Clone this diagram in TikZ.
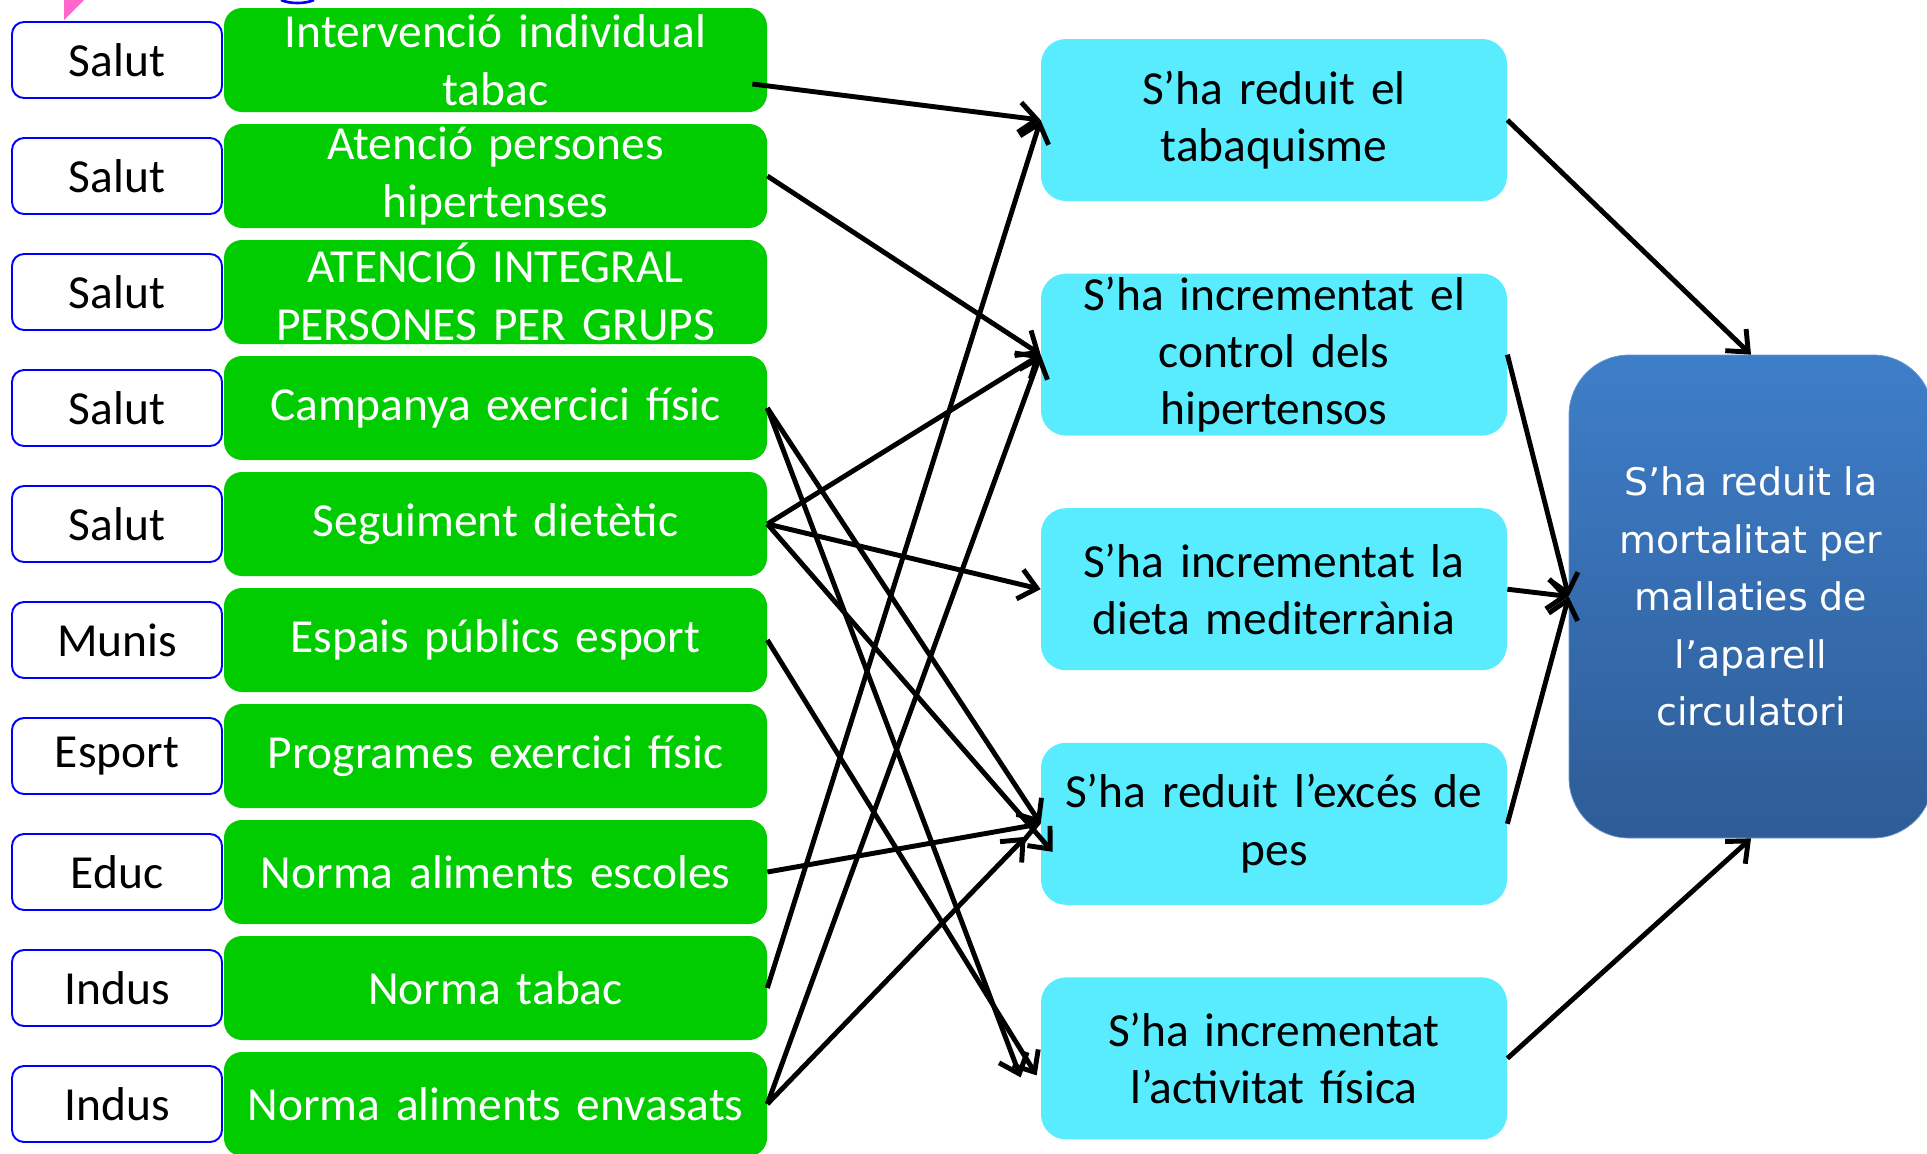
\documentclass[tikz,border=0pt]{standalone}
\usepackage{fontspec}
\setmainfont{Carlito}
\newfontfamily\widefont{DejaVu Sans}
\usetikzlibrary{arrows.meta,positioning}
\definecolor{verd}{RGB}{0,204,0}
\definecolor{cel}{RGB}{89,236,255}
\definecolor{blaudalt}{RGB}{62,126,201}
\definecolor{blaubaix}{RGB}{46,92,150}
\definecolor{rosa}{RGB}{255,102,204}

\begin{document}
\begin{tikzpicture}[
  >={Straight Barb[length=3.5mm, width=6mm]},
  font=\fontsize{27}{32.7}\selectfont,
  sector/.style={rectangle, rounded corners=2.4mm, draw=blue, line width=1.1pt, fill=white,
                 minimum width=4.2cm, minimum height=1.52cm, inner sep=0pt},
  accio/.style={rectangle, rounded corners=3.6mm, fill=verd, text=white, align=center,
                minimum width=10.86cm, minimum height=2.08cm, inner sep=0pt, text width=10.4cm},
  efecte/.style={rectangle, rounded corners=5mm, fill=cel, align=center,
                 minimum width=9.32cm, minimum height=3.24cm, inner sep=0pt, text width=8.8cm},
  final/.style={rectangle, rounded corners=12mm, top color=blaudalt, bottom color=blaubaix,
                draw=blaudalt!80, text=white, align=center, minimum width=7.28cm,
                minimum height=9.66cm, inner sep=0pt,
                font=\widefont\fontsize{21.6}{32.7}\selectfont},
  arr/.style={->, draw=black, line width=2.8pt}
]
\useasboundingbox (0,0) rectangle (38.54,-23.06);
% --- restes de la diapositiva ---
\fill[rosa] (1.28,0) -- (1.28,-0.4) -- (1.68,0) -- cycle;
\draw[blue, line width=1.5pt] (5.62,0) .. controls (5.8,-0.08) and (6.1,-0.08) .. (6.28,0);
% --- Sectors ---
\node[sector] (s1)  at (2.34,-1.2)   {Salut};
\node[sector] (s2)  at (2.34,-3.52)  {Salut};
\node[sector] (s3)  at (2.34,-5.84)  {Salut};
\node[sector] (s4)  at (2.34,-8.16)  {Salut};
\node[sector] (s5)  at (2.34,-10.48) {Salut};
\node[sector] (s6)  at (2.34,-12.8)  {Munis};
\node[sector] (s7)  at (2.34,-15.12) {Esport};
\node[sector] (s8)  at (2.34,-17.44) {Educ};
\node[sector] (s9)  at (2.34,-19.76) {Indus};
\node[sector] (s10) at (2.34,-22.08) {Indus};
% --- Accions ---
\node[accio] (g1)  at (9.91,-1.2)   {Intervenció individual\\tabac};
\node[accio] (g2)  at (9.91,-3.52)  {Atenció persones\\hipertenses};
\node[accio] (g3)  at (9.91,-5.84)  {ATENCIÓ INTEGRAL\\PERSONES PER GRUPS};
\node[accio] (g4)  at (9.91,-8.16)  {Campanya exercici físic};
\node[accio] (g5)  at (9.91,-10.48) {Seguiment dietètic};
\node[accio] (g6)  at (9.91,-12.8)  {Espais públics esport};
\node[accio] (g7)  at (9.91,-15.12) {Programes exercici físic};
\node[accio] (g8)  at (9.91,-17.44) {Norma aliments escoles};
\node[accio] (g9)  at (9.91,-19.76) {Norma tabac};
\node[accio] (g10) at (9.91,-22.08) {Norma aliments envasats};
% --- Efectes intermedis ---
\node[efecte] (c1) at (25.48,-2.4)    {S’ha reduit el\\tabaquisme};
\node[efecte] (c2) at (25.48,-7.092)  {S’ha incrementat el\\control dels\\hipertensos};
\node[efecte] (c3) at (25.48,-11.784) {S’ha incrementat la\\dieta mediterrània};
\node[efecte] (c4) at (25.48,-16.476) {S’ha reduit l’excés de\\pes};
\node[efecte] (c5) at (25.48,-21.168) {S’ha incrementat\\l’activitat física};
% --- Resultat final ---
\node[final] (fi) at (35.02,-11.93) {S’ha reduit la\\mortalitat per\\mallaties de\\l’aparell\\circulatori};
% --- Connexions ---
\draw[arr] ([xshift=-3mm,yshift=-4.8mm]g1.east) -- (c1.west);
\draw[arr] (g2.east) -- (c2.west);
\draw[arr] (g4.east) -- (c4.west);
\draw[arr] (g4.east) -- ([xshift=-4mm,yshift=-3.8mm]c5.west);
\draw[arr] (g5.east) -- (c2.west);
\draw[arr] (g5.east) -- (c3.west);
\draw[arr] (g5.east) -- ([xshift=2.4mm,yshift=-5.6mm]c4.west);
\draw[arr] (g6.east) -- ([xshift=-0.8mm,yshift=-3.4mm]c5.west);
\draw[arr] (g8.east) -- (c4.west);
\draw[arr] (g9.east) -- (c1.west);
\draw[arr] (g10.east) -- (c2.west);
\draw[arr] (g10.east) -- ([xshift=-3mm,yshift=-2.6mm]c4.west);
\draw[arr] (c1.east) -- (fi.north);
\draw[arr] (c2.east) -- (fi.west);
\draw[arr] (c3.east) -- (fi.west);
\draw[arr] (c4.east) -- (fi.west);
\draw[arr] (c5.east) -- (fi.south);
\end{tikzpicture}
\end{document}
